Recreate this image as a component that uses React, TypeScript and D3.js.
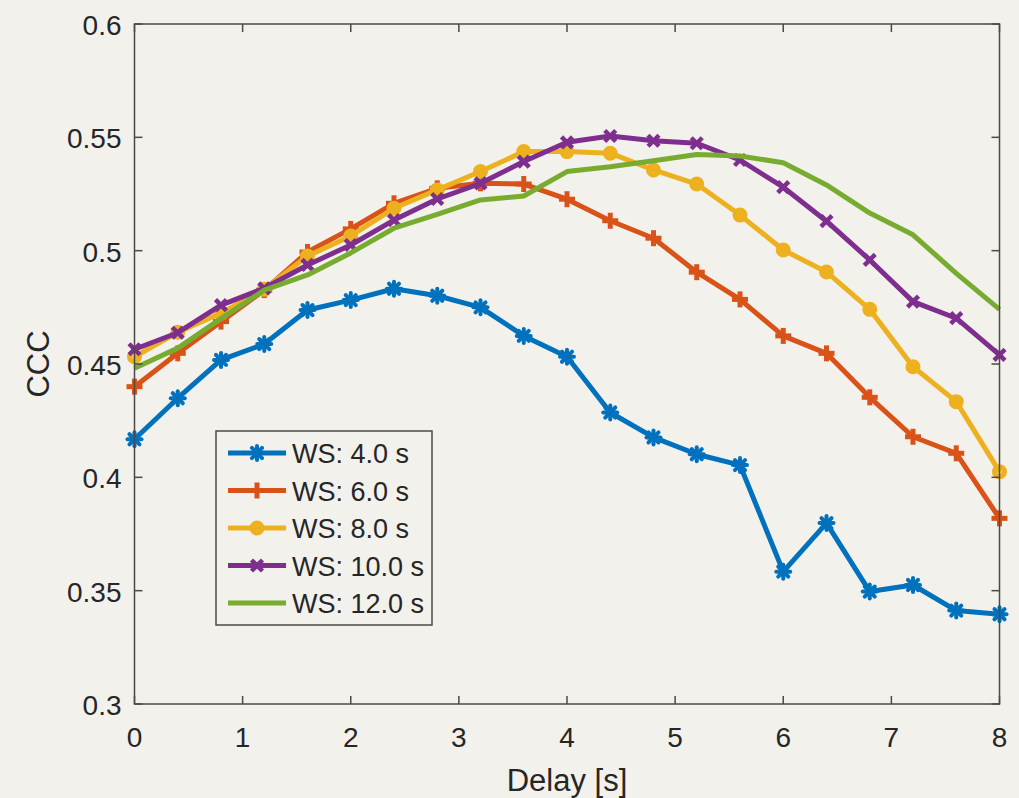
import React from "react";
import * as d3 from "d3";

const delays = [0, 0.4, 0.8, 1.2, 1.6, 2.0, 2.4, 2.8, 3.2, 3.6, 4.0, 4.4, 4.8, 5.2, 5.6, 6.0, 6.4, 6.8, 7.2, 7.6, 8.0];

const ws4 = [0.4168, 0.4349, 0.4518, 0.4588, 0.4738, 0.4782, 0.4832, 0.4801, 0.475, 0.4624, 0.4532, 0.4286, 0.4176, 0.4102, 0.4054, 0.3584, 0.3798, 0.3496, 0.3525, 0.3412, 0.3396];
const ws6 = [0.44, 0.4547, 0.4687, 0.4826, 0.4994, 0.5096, 0.5209, 0.5275, 0.5297, 0.5294, 0.5227, 0.5132, 0.5055, 0.4905, 0.4785, 0.4624, 0.4547, 0.4353, 0.4179, 0.4106, 0.3819];
const ws8 = [0.4532, 0.4640, 0.4724, 0.4830, 0.4976, 0.5065, 0.5187, 0.5268, 0.5349, 0.5437, 0.5437, 0.543, 0.5356, 0.5294, 0.5157, 0.5003, 0.4906, 0.4741, 0.4488, 0.4334, 0.4025];
const ws10 = [0.4565, 0.4638, 0.476, 0.4834, 0.4937, 0.5025, 0.5135, 0.5228, 0.5297, 0.5393, 0.5478, 0.5506, 0.5485, 0.5474, 0.54, 0.528, 0.513, 0.4959, 0.4775, 0.4702, 0.454];
const ws12 = [0.4481, 0.457, 0.470, 0.4826, 0.4893, 0.499, 0.5099, 0.5160, 0.5224, 0.5241, 0.5349, 0.537, 0.5397, 0.5424, 0.5418, 0.5388, 0.529, 0.5166, 0.507, 0.490, 0.4741];

const seriesNames = ["WS: 4.0 s", "WS: 6.0 s", "WS: 8.0 s", "WS: 10.0 s", "WS: 12.0 s"];
const seriesColors = ["#0072BD", "#D95319", "#EDB120", "#7E2F8E", "#77AC30"];
const seriesMarkers = ["asterisk", "plus", "circle", "cross", "none"];
const seriesValues = [ws4, ws6, ws8, ws10, ws12];

const xTicks = [0, 1, 2, 3, 4, 5, 6, 7, 8];
const yTicks = [0.3, 0.35, 0.4, 0.45, 0.5, 0.55, 0.6];
const yTickLabels = ["0.3", "0.35", "0.4", "0.45", "0.5", "0.55", "0.6"];

const W = 1019;
const H = 798;
const L = 134.5, R = 999.5, T = 24, B = 704;
const FONT = "'Liberation Sans', Arial, Helvetica, sans-serif";
const AX = "#4a4a4a";
const TXT = "#262626";

function Marker({ kind, x, y, color }: { kind: string; x: number; y: number; color: string }) {
  const s = 7;
  if (kind === "asterisk") {
    const d = s * 0.72;
    return (
      <g stroke={color} strokeWidth={4} strokeLinecap="round">
        <line x1={x - s} y1={y} x2={x + s} y2={y} />
        <line x1={x} y1={y - s} x2={x} y2={y + s} />
        <line x1={x - d} y1={y - d} x2={x + d} y2={y + d} />
        <line x1={x - d} y1={y + d} x2={x + d} y2={y - d} />
        <circle cx={x} cy={y} r={4.5} fill={color} stroke="none" />
      </g>
    );
  }
  if (kind === "plus") {
    return (
      <g stroke={color} strokeWidth={5}>
        <line x1={x - s - 1} y1={y} x2={x + s + 1} y2={y} />
        <line x1={x} y1={y - s - 1} x2={x} y2={y + s + 1} />
      </g>
    );
  }
  if (kind === "circle") {
    return <circle cx={x} cy={y} r={5} fill={color} fillOpacity={0.6} stroke={color} strokeWidth={5} />;
  }
  if (kind === "cross") {
    const d = 5.5;
    return (
      <g stroke={color} strokeWidth={4.5}>
        <line x1={x - d} y1={y - d} x2={x + d} y2={y + d} />
        <line x1={x - d} y1={y + d} x2={x + d} y2={y - d} />
      </g>
    );
  }
  return null;
}

export default function App() {
  const x = d3.scaleLinear().domain([0, 8]).range([L, R]);
  const y = d3.scaleLinear().domain([0.3, 0.6]).range([B, T]);
  const line = d3
    .line<number>()
    .x((_, i) => x(delays[i]))
    .y((v) => y(v));

  const legX = 216, legY = 431, legW = 216, legH = 194;
  const rowY0 = 453, rowStep = 37.5;

  return (
    <div style={{ position: "absolute", left: 0, top: 0 }}>
      <svg width={W} height={H} style={{ display: "block", background: "#f3f1ec" }}>
        <rect x={0} y={0} width={W} height={H} fill="#f3f1ec" />
        {seriesValues.map((vals, si) => (
          <g key={si}>
            <path d={line(vals) || ""} fill="none" stroke={seriesColors[si]} strokeWidth={5} strokeLinejoin="round" />
            {vals.map((v, i) => (
              <Marker key={i} kind={seriesMarkers[si]} x={x(delays[i])} y={y(v)} color={seriesColors[si]} />
            ))}
          </g>
        ))}
        <rect x={L} y={T} width={R - L} height={B - T} fill="none" stroke={AX} strokeWidth={1.5} />
        {xTicks.map((t) => (
          <g key={"x" + t} stroke={AX} strokeWidth={1.5}>
            <line x1={x(t)} y1={B} x2={x(t)} y2={B - 8} />
            <line x1={x(t)} y1={T} x2={x(t)} y2={T + 8} />
          </g>
        ))}
        {yTicks.map((t) => (
          <g key={"y" + t} stroke={AX} strokeWidth={1.5}>
            <line x1={L} y1={y(t)} x2={L + 8} y2={y(t)} />
            <line x1={R} y1={y(t)} x2={R - 8} y2={y(t)} />
          </g>
        ))}
        {xTicks.map((t) => (
          <text key={"xl" + t} x={x(t)} y={B + 43} textAnchor="middle" fontFamily={FONT} fontSize={28} fill={TXT}>
            {String(t)}
          </text>
        ))}
        {yTicks.map((t, i) => (
          <text key={"yl" + t} x={L - 13} y={y(t) + 11} textAnchor="end" fontFamily={FONT} fontSize={28} fill={TXT}>
            {yTickLabels[i]}
          </text>
        ))}
        <text x={(L + R) / 2} y={791} textAnchor="middle" fontFamily={FONT} fontSize={31} fill={TXT}>
          Delay [s]
        </text>
        <text
          transform={`translate(49, ${(T + B) / 2}) rotate(-90)`}
          textAnchor="middle"
          fontFamily={FONT}
          fontSize={31}
          fill={TXT}
        >
          CCC
        </text>
        <rect x={legX} y={legY} width={legW} height={legH} fill="#f3f1ec" stroke={AX} strokeWidth={1.5} />
        {seriesNames.map((name, si) => {
          const ry = rowY0 + si * rowStep;
          return (
            <g key={name}>
              <line x1={228} y1={ry} x2={286} y2={ry} stroke={seriesColors[si]} strokeWidth={5} />
              <Marker kind={seriesMarkers[si]} x={257} y={ry} color={seriesColors[si]} />
              <text x={292} y={ry + 10} fontFamily={FONT} fontSize={27} fill={TXT}>
                {name}
              </text>
            </g>
          );
        })}
      </svg>
    </div>
  );
}
